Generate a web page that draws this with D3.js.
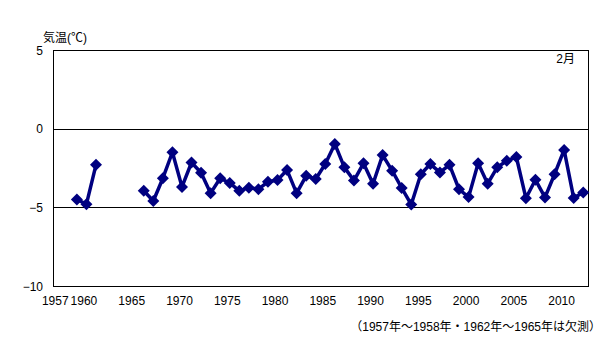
<!DOCTYPE html>
<html><head><meta charset="utf-8">
<script src="https://cdn.jsdelivr.net/npm/d3@7"></script>
<style>
html,body{margin:0;padding:0;background:#fff;}
text{font-family:"Liberation Sans","Noto Sans CJK JP",sans-serif;font-size:12px;fill:#000;}
</style></head><body>
<svg id="c" width="605" height="342"></svg>
<script>
const years = d3.range(1957, 2013);
const values = [
  null, null, -4.5, -4.8, -2.3, null, null, null, null,
  -3.95, -4.6, -3.15, -1.5, -3.7, -2.15, -2.8, -4.1, -3.15, -3.45,
  -3.95, -3.75, -3.85, -3.38, -3.27, -2.63, -4.1, -3.0, -3.2, -2.25,
  -0.97, -2.46, -3.3, -2.2, -3.5, -1.68, -2.67, -3.77, -4.82, -2.9,
  -2.25, -2.78, -2.3, -3.85, -4.35, -2.2, -3.5, -2.46, -2.04, -1.8,
  -4.42, -3.25, -4.37, -2.9, -1.35, -4.4, -4.05
];
const xTickLabels = [1957, 1960, 1965, 1970, 1975, 1980, 1985, 1990, 1995, 2000, 2005, 2010];
const yTicks = [5, 0, -5, -10];
const gridValues = [0, -5];
const yTitle = "気温(℃)";
const monthLabel = "2月";
const note = "（1957年～1958年・1962年～1965年は欠測）";

const data = years.map((y, i) => ({year: y, value: values[i]}));
const L = 53, R = 588, T = 50, B = 286;
const svg = d3.select("#c");
const x = d3.scaleBand().domain(years).range([L, R]);
const cx = d => x(d) + x.bandwidth() / 2;
const y = d3.scaleLinear().domain([-10, 5]).range([B, T]);

// grid lines
svg.selectAll(".grid").data(gridValues).join("line")
  .attr("x1", L).attr("x2", R)
  .attr("y1", d => Math.round(y(d)) + 0.5).attr("y2", d => Math.round(y(d)) + 0.5)
  .attr("stroke", "#000").attr("stroke-width", 1);
// frame
svg.append("rect").attr("x", L + 0.5).attr("y", T + 0.5)
  .attr("width", R - L).attr("height", B - T)
  .attr("fill", "none").attr("stroke", "#000").attr("stroke-width", 1);

// y axis labels
const yAxis = d3.axisLeft(y).tickValues(yTicks).tickSize(0).tickPadding(10).tickFormat(d3.format("d"));
const gy = svg.append("g").attr("transform", `translate(${L},0)`).call(yAxis);
gy.select(".domain").remove();
gy.selectAll("text").attr("font-size", 12).attr("font-family", null).attr("dy", "0.35em");

// x axis labels
const xAxis = d3.axisBottom(x).tickValues(xTickLabels).tickSize(0).tickPadding(0);
const gx = svg.append("g").attr("transform", `translate(-2.5,${B})`).call(xAxis);
gx.select(".domain").remove();
gx.selectAll("text").attr("font-size", 12).attr("font-family", null).attr("dy", null).attr("y", 19);

// line
const line = d3.line().defined(d => d.value !== null)
  .x(d => cx(d.year)).y(d => y(d.value));
svg.append("path").datum(data).attr("d", line)
  .attr("fill", "none").attr("stroke", "#000080").attr("stroke-width", 3.5)
  .attr("stroke-linejoin", "round");
// markers
svg.selectAll(".m").data(data.filter(d => d.value !== null)).join("path")
  .attr("d", "M0,-6L6,0L0,6L-6,0Z")
  .attr("transform", d => `translate(${cx(d.year)},${y(d.value)})`)
  .attr("fill", "#000080");

svg.append("text").attr("x", 43).attr("y", 42).text(yTitle);
svg.append("text").attr("x", 575).attr("y", 63).attr("text-anchor", "end").text(monthLabel);
svg.append("text").attr("x", 601).attr("y", 331).attr("text-anchor", "end").text(note);
</script>
</body></html>
